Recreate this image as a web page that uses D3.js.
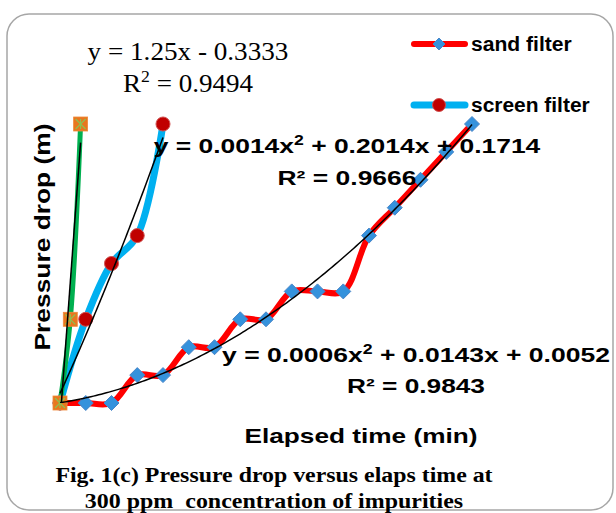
<!DOCTYPE html>
<html>
<head>
<meta charset="utf-8">
<script src="https://cdn.jsdelivr.net/npm/d3@7"></script>
<style>
  html, body { margin: 0; padding: 0; background: #fff; }
  svg { display: block; }
</style>
</head>
<body>
<svg id="chart" width="616" height="513"></svg>
<script>
// ---- data ----
const sandTime = [0,5,10,15,20,25,30,35,40,45,50,55,60,65,70,75,80];
const sandDrop = [0,0,0,0.5,0.5,1,1,1.5,1.5,2,2,2,3,3.5,4,4.5,5];
const screenTime = [0,5,10,15,20];
const screenDrop = [0,1.5,2.5,3,5];
const thirdTime = [0,2,4];
const thirdDrop = [0,1.5,5];
const sandFit = [0.0006, 0.0143, 0.0052];     // a, b, c
const screenFit = [0.0014, 0.2014, 0.1714];
const thirdFit = [1.25, -0.3333];             // slope, intercept
const legendLabels = ["sand filter", "screen filter"];
const xTitle = "Elapsed time (min)";
const yTitle = "Pressure drop (m)";
const captionLines = ["Fig. 1(c) Pressure drop versus elaps time at", "300 ppm  concentration of impurities"];

const svg = d3.select("#chart");
const x = d3.scaleLinear().domain([0, 80]).range([60, 472]);
const y = d3.scaleLinear().domain([0, 5]).range([403, 124]);

// frame
svg.append("rect").attr("x", 7).attr("y", 14).attr("width", 606).attr("height", 496)
  .attr("rx", 22).attr("ry", 22).attr("fill", "#fff").attr("stroke", "#a6a6a6").attr("stroke-width", 1.5);

const defs = svg.append("defs");
defs.append("clipPath").attr("id", "plotclip").append("rect")
  .attr("x", 40).attr("y", 100).attr("width", 460).attr("height", y(0) - 100);

const smooth = d3.line().x(d => x(d[0])).y(d => y(d[1])).curve(d3.curveCatmullRom.alpha(0.5));
const zip = (a, b) => a.map((v, i) => [v, b[i]]);

// sand series
svg.append("path").attr("d", smooth(zip(sandTime, sandDrop)))
  .attr("fill", "none").attr("stroke", "#ff0000").attr("stroke-width", 6).attr("stroke-linecap", "round");
// screen series
svg.append("path").attr("d", smooth(zip(screenTime, screenDrop)))
  .attr("fill", "none").attr("stroke", "#00b0f0").attr("stroke-width", 7).attr("stroke-linecap", "round");
// third series
svg.append("path").attr("d", smooth(zip(thirdTime, thirdDrop)))
  .attr("fill", "none").attr("stroke", "#00b050").attr("stroke-width", 5).attr("stroke-linecap", "round");

// markers
const diamond = (g, cx, cy, r) => g.append("path")
  .attr("d", `M${cx},${cy - r}L${cx + r},${cy}L${cx},${cy + r}L${cx - r},${cy}Z`)
  .attr("fill", "#3592dc").attr("stroke", "#4a86c8").attr("stroke-width", 1);
const mk = svg.append("g");
zip(sandTime, sandDrop).forEach(d => diamond(mk, x(d[0]), y(d[1]), 7.5));
zip(screenTime, screenDrop).forEach(d => {
  mk.append("circle").attr("cx", x(d[0])).attr("cy", y(d[1])).attr("r", 7)
    .attr("fill", "#c00000").attr("stroke", "#d0504f").attr("stroke-width", 1);
});
zip(thirdTime, thirdDrop).forEach(d => {
  const cx = x(d[0]), cy = y(d[1]), h = 7;
  mk.append("rect").attr("x", cx - h).attr("y", cy - h).attr("width", 2 * h).attr("height", 2 * h)
    .attr("fill", "#e8771f").attr("stroke", "#f08a3a").attr("stroke-width", 0.8);
  const a = 5;
  [[-a, -a, a, a], [-a, a, a, -a], [0, -a, 0, a]].forEach(l => {
    mk.append("line").attr("x1", cx + l[0]).attr("y1", cy + l[1]).attr("x2", cx + l[2]).attr("y2", cy + l[3])
      .attr("stroke", "#8cc152").attr("stroke-width", 1.2);
  });
});

// trendlines
const tg = svg.append("g").attr("clip-path", "url(#plotclip)");
const poly = (c, t) => c[0] * t * t + c[1] * t + c[2];
const trend = d3.line().x(d => x(d[0])).y(d => y(d[1]));
tg.append("path").attr("d", trend(d3.range(0, 80.01, 0.5).map(t => [t, poly(sandFit, t)])))
  .attr("fill", "none").attr("stroke", "#000").attr("stroke-width", 1.5);
tg.append("path").attr("d", trend(d3.range(0, 20.01, 0.25).map(t => [t, poly(screenFit, t)])))
  .attr("fill", "none").attr("stroke", "#000").attr("stroke-width", 1.5);
tg.append("path").attr("d", trend([[0, thirdFit[1]], [4, thirdFit[0] * 4 + thirdFit[1]]]))
  .attr("fill", "none").attr("stroke", "#000").attr("stroke-width", 1.5);

// text helpers: stretch horizontally to the measured width
function stretch(sel, ax, target, pre) {
  const w = sel.node().getBBox().width;
  const s = target / w;
  sel.attr("transform", `translate(${ax},0) scale(${s},1) translate(${-ax},0)` + (pre || ""));
}
const serif = "'Liberation Serif', 'Times New Roman', serif";
const sans = "'Liberation Sans', Arial, sans-serif";
const eq = svg.append("g");
function eqText(cx, by, font, size, weight) {
  return eq.append("text").attr("x", cx).attr("y", by).attr("text-anchor", "middle")
    .attr("font-family", font).attr("font-size", size).attr("font-weight", weight).attr("fill", "#000");
}
function withSup(t, a, sup, b, supSize, dy) {
  t.append("tspan").text(a);
  t.append("tspan").attr("dy", -dy).attr("font-size", supSize).text(sup);
  t.append("tspan").attr("dy", dy).text(b);
  return t;
}
let t1 = eqText(188, 60, serif, 26, "normal").text("y = 1.25x - 0.3333");
stretch(t1, 188, 201);
let t2 = withSup(eqText(188, 92, serif, 26, "normal"), "R", "2", " = 0.9494", 17, 10);
stretch(t2, 188, 130);

let t3 = withSup(eqText(347, 153, sans, 21, "bold"), "y = 0.0014x", "2", " + 0.2014x + 0.1714", 14, 8);
stretch(t3, 347, 387);
let t4 = eqText(347, 185, sans, 21, "bold").text("R² = 0.9666");
stretch(t4, 347, 139);

let t5 = withSup(eqText(416, 362, sans, 21, "bold"), "y = 0.0006x", "2", " + 0.0143x + 0.0052", 14, 8);
stretch(t5, 416, 388);
let t6 = eqText(416, 393, sans, 21, "bold").text("R² = 0.9843");
stretch(t6, 416, 138);

// legend
const lg = svg.append("g");
const legY = [44, 105];
lg.append("line").attr("x1", 414).attr("x2", 465).attr("y1", legY[0]).attr("y2", legY[0])
  .attr("stroke", "#ff0000").attr("stroke-width", 6).attr("stroke-linecap", "round");
diamond(lg, 439, legY[0], 6);
lg.append("line").attr("x1", 414).attr("x2", 465).attr("y1", legY[1]).attr("y2", legY[1])
  .attr("stroke", "#00b0f0").attr("stroke-width", 7).attr("stroke-linecap", "round");
lg.append("circle").attr("cx", 439).attr("cy", legY[1]).attr("r", 6.5)
  .attr("fill", "#c00000").attr("stroke", "#d0504f");
const legW = [101, 119];
legendLabels.forEach((l, i) => {
  const t = lg.append("text").attr("x", 471).attr("y", legY[i] + 7).attr("font-family", sans)
    .attr("font-size", 20).attr("font-weight", "bold").attr("fill", "#000").text(l);
  stretch(t, 471, legW[i]);
});

// axis titles
const xt = svg.append("text").attr("x", 361).attr("y", 443).attr("text-anchor", "middle")
  .attr("font-family", sans).attr("font-size", 21).attr("font-weight", "bold").attr("fill", "#000").text(xTitle);
stretch(xt, 361, 233);
const yt = svg.append("text").attr("x", 0).attr("y", 0).attr("text-anchor", "middle")
  .attr("font-family", sans).attr("font-size", 22).attr("font-weight", "bold").attr("fill", "#000").text(yTitle);
{
  const w = yt.node().getBBox().width;
  yt.attr("transform", `translate(50,237) rotate(-90) scale(${227 / w},1)`);
}

// caption
const capW = [438, 379];
captionLines.forEach((c, i) => {
  const t = svg.append("text").attr("x", 274).attr("y", [482, 508][i]).attr("text-anchor", "middle")
    .attr("font-family", serif).attr("font-size", 22).attr("font-weight", "bold").attr("fill", "#000")
    .attr("xml:space", "preserve").style("white-space", "pre").text(c);
  stretch(t, 274, capW[i]);
});
</script>
</body>
</html>
